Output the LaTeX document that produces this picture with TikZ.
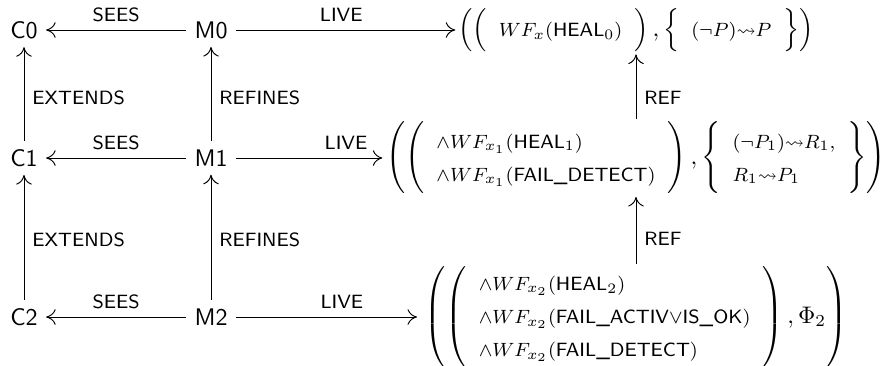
\documentclass[tikz,border=0pt]{standalone}
\usepackage{amsmath,amssymb}
\usetikzlibrary{arrows.meta}
\newcommand{\tsf}[1]{\text{\sffamily #1}}
\newcommand{\cellf}[1]{\text{\footnotesize$#1$}}
\newcommand{\lto}{\mathord{\leadsto}}
\renewcommand{\arraystretch}{1.15}
\tikzset{
  obj/.style={font=\sffamily, inner sep=3.3pt},
  lbl/.style={font=\fontsize{8}{9.6}\selectfont\sffamily, inner sep=3.3pt},
  fml/.style={inner sep=1pt},
  arr/.style={-{To[length=4pt,width=6.5pt]}, line width=0.4pt}
}
\begin{document}
\begin{tikzpicture}[x=0.4167pt, y=-0.4167pt]
\useasboundingbox (0,0) rectangle (888,365);
\node[obj] (C0) at (24,30) {C0};
\node[obj] (M0) at (211,30) {M0};
\node[obj] (C1) at (24,158) {C1};
\node[obj] (M1) at (211,158) {M1};
\node[obj] (C2) at (24,317) {C2};
\node[obj] (M2) at (211,317) {M2};
\node[fml] (F0) at (636,30) {$\left(\left(\begin{array}{c}\cellf{WF_x(\tsf{HEAL}_0)}\end{array}\right),\left\{\begin{array}{c}\cellf{(\neg P)\lto P}\end{array}\right\}\right)$};
\node[fml] (F1) at (636,158) {$\left(\left(\begin{array}{l}\cellf{\wedge WF_{x_1}(\tsf{HEAL}_1)}\\ \cellf{\wedge WF_{x_1}(\tsf{FAIL\_DETECT})}\end{array}\right),\left\{\begin{array}{l}\cellf{(\neg P_1)\lto R_1,}\\ \cellf{R_1\lto P_1}\end{array}\right\}\right)$};
\node[fml] (F2) at (636,317) {$\left(\left(\begin{array}{l}\cellf{\wedge WF_{x_2}(\tsf{HEAL}_2)}\\ \cellf{\wedge WF_{x_2}(\tsf{FAIL\_ACTIV}{\vee}\tsf{IS\_OK})}\\ \cellf{\wedge WF_{x_2}(\tsf{FAIL\_DETECT})}\end{array}\right),\Phi_2\right)$};
\draw[arr] (M0) -- node[lbl,above]{SEES} (C0);
\draw[arr] (M1) -- node[lbl,above]{SEES} (C1);
\draw[arr] (M2) -- node[lbl,above]{SEES} (C2);
\draw[arr] (C1) -- node[lbl,right,pos=0.46]{EXTENDS} (C0);
\draw[arr] (C2) -- node[lbl,right,pos=0.48]{EXTENDS} (C1);
\draw[arr] (M1) -- node[lbl,right,pos=0.46]{REFINES} (M0);
\draw[arr] (M2) -- node[lbl,right,pos=0.48]{REFINES} (M1);
\draw[arr] (M0) -- node[lbl,above,pos=0.48]{LIVE} (F0);
\draw[arr,shorten >=0.5pt] (M1) -- node[lbl,above,pos=0.745]{LIVE} (F1);
\draw[arr,shorten >=2pt] (M2) -- node[lbl,above,pos=0.57]{LIVE} (F2);
\draw[arr] (F1) -- node[lbl,right,pos=0.33]{REF} (F0);
\draw[arr] (F2) -- node[lbl,right,pos=0.37]{REF} (F1);
\end{tikzpicture}
\end{document}
